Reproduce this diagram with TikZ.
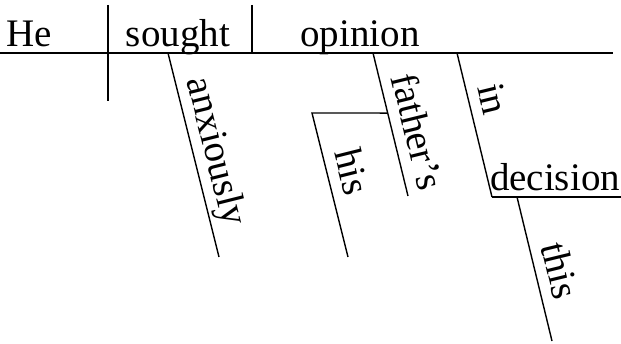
\documentclass[tikz,border=0pt]{standalone}
\usepackage{fontspec}
\setmainfont{Liberation Serif}
\usepackage{tikz}
\usetikzlibrary{calc,positioning}

\begin{document}
\begin{tikzpicture}[x=1pt, y=-1pt, line width=1.4pt,
		word/.style={anchor=base, inner sep=0pt, font=\fontsize{39}{43}\selectfont},
		slant/.style={sloped, above, inner sep=1pt, text depth=10pt, font=\fontsize{39}{43}\selectfont}]
	\useasboundingbox (0,0) rectangle (621,344);
	
	% main line
	\coordinate (base1) at (0,53);
	\coordinate (base2) at (613,53);
	\coordinate (subjtop) at (108,5);
	\coordinate (subjbot) at (108,101);
	\coordinate (objtop) at (252,5);
	\coordinate (objbot) at (252,53);
	
	\node[word] (he) at (29,47) {He};
	\node[word] (sought) at (178,47) {sought};
	\node[word] (opinion) at (360,47) {opinion};
	
	\draw (base1) -- (base2);
	\draw (subjtop) -- (subjbot);
	\draw (objtop) -- (objbot);
	
	% modifiers
	\coordinate (anx1) at (168,53);
	\coordinate (anx2) at (219,257);
	\coordinate (fath1) at (373,53);
	\coordinate (fath2) at (408,196);
	\coordinate (his0) at ($(fath1)!0.42!(fath2)$);
	\coordinate (his1) at (312,113);
	\coordinate (his2) at (348,257);
	\coordinate (in1) at (457,53);
	\coordinate (in2) at (492,197);
	\coordinate (dec2) at (621,197);
	\coordinate (this1) at (517,197);
	\coordinate (this2) at (552,341);
	
	\draw (anx1) -- (anx2) node[slant, pos=.51] (anxiously) {anxiously};
	\draw (fath1) -- (fath2) node[slant, pos=.59] (fathers) {father’s};
	\draw (his0) -- (his1) -- (his2) node[slant, pos=.45] (his) {his};
	\draw (in1) -- (in2) node[slant, pos=.36] (in) {in};
	\draw (in2) -- (dec2);
	\node[word] (decision) at (555,191) {decision};
	\draw (this1) -- (this2) node[slant, pos=.55] (this) {this};
\end{tikzpicture}
\end{document}
